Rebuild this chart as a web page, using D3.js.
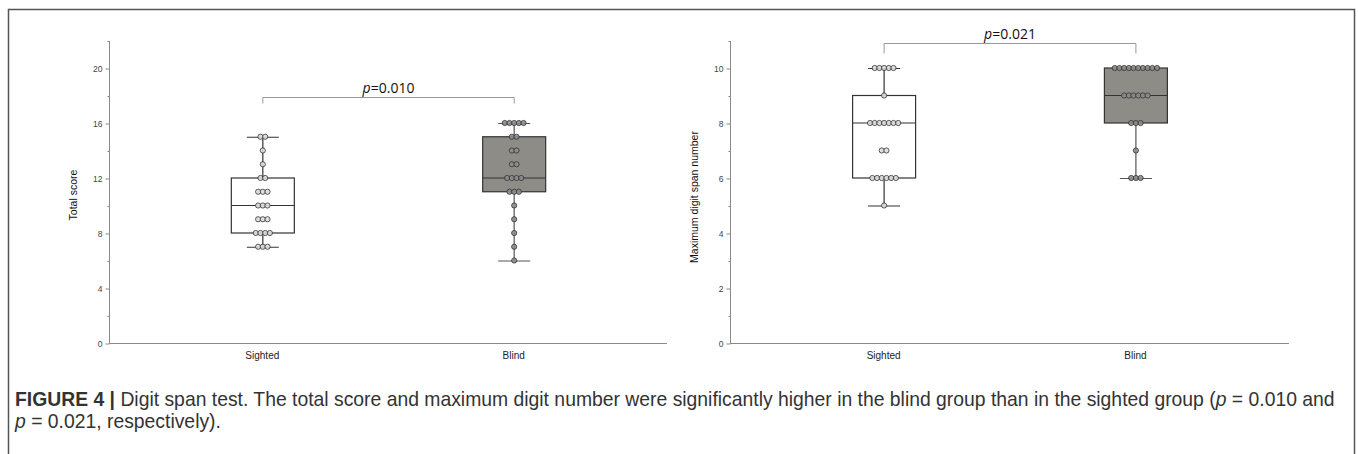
<!DOCTYPE html>
<html><head><meta charset="utf-8">
<script src="https://cdn.jsdelivr.net/npm/d3@7"></script>
<style>
body{margin:0;background:#fff;}
svg{display:block;}
</style></head>
<body>
<svg id="c" width="1358" height="454"></svg>
<script>
// ---------- data ----------
const groups = ["Sighted", "Blind"];
// panel A: Total score (value -> count of participants)
const totalSighted = [[7,3],[8,4],[9,3],[10,3],[11,3],[12,2],[13,1],[14,1],[15,2]];
const totalBlind   = [[6,1],[7,1],[8,1],[9,1],[10,1],[11,3],[12,4],[13,2],[14,2],[15,2],[16,5]];
// box stats [min, q1, median, q3, max]
const totalBoxSighted = [7, 8, 10, 12, 15];
const totalBoxBlind   = [6, 11, 12, 15, 16];
// panel B: Maximum digit span number
const spanSighted = [[5,1],[6,6],[7,2],[8,7],[9,1],[10,5]];
const spanBlind   = [[6,3],[7,1],[8,3],[9,6],[10,10]];
const spanBoxSighted = [5, 6, 8, 9, 10];
const spanBoxBlind   = [6, 8, 9, 10, 10];
const totalTicks = [0, 4, 8, 12, 16, 20];
const spanTicks = [0, 2, 4, 6, 8, 10];
const pTotal = "0.010", pSpan = "0.021";

const svg = d3.select("#c");
const FONT = "'Liberation Sans', Arial, sans-serif";

// figure frame
svg.append("path").attr("d","M8.5,460 V9.5 H1354.5 V460")
  .attr("fill","none").attr("stroke","#555").attr("stroke-width",1.5);

function panel(opt){
  const x = d3.scalePoint().domain(groups).range([opt.x0, opt.x1]).padding(0.61);
  const y = d3.scaleLinear().domain([0, opt.ymax]).range([343, 343 - opt.ymax*opt.ppu]);
  const g = svg.append("g");
  // x axis line
  g.append("line").attr("x1",opt.x0).attr("x2",opt.x1).attr("y1",343.5).attr("y2",343.5)
    .attr("stroke","#8a8a8a").attr("stroke-width",1);
  // y axis
  const ya = d3.axisLeft(y).tickValues(opt.ticks).tickSize(4).tickPadding(3);
  const yg = g.append("g").attr("transform",`translate(${opt.x0+0.5},0.5)`).call(ya);
  yg.select(".domain").attr("stroke","#8a8a8a").attr("d",`M0,${y(0)}V${y(opt.ymax)}`);
  yg.selectAll(".tick line").attr("stroke","#8a8a8a");
  yg.selectAll(".tick text").attr("font-family",FONT).attr("font-size",8.5).attr("fill","#444");
  const minor = d3.axisLeft(y).tickValues(opt.minor).tickSize(2).tickFormat("");
  const mg = g.append("g").attr("transform",`translate(${opt.x0+0.5},0.5)`).call(minor);
  mg.select(".domain").remove();
  mg.selectAll(".tick line").attr("stroke","#8a8a8a");
  // y title
  g.append("text").attr("transform",`translate(${opt.titleX},${opt.titleY}) rotate(-90)`)
    .attr("text-anchor","middle").attr("font-family",FONT).attr("font-size",10.5)
    .attr("fill","#111").text(opt.title);
  // x labels
  groups.forEach(gr=>{
    g.append("text").attr("x",x(gr)).attr("y",359).attr("text-anchor","middle")
      .attr("font-family",FONT).attr("font-size",10).attr("fill","#222").text(gr);
  });
  // boxes
  const bw = 63, cap = 16;
  [[groups[0],opt.boxS,"#ffffff","#333",opt.dotsS,"#dcdcdc"],
   [groups[1],opt.boxB,"#8e8c87","#555",opt.dotsB,"#8c8c8c"]].forEach(([gr,b,fill,wc,dots,dfill])=>{
    const cx = x(gr)+0.5;
    g.append("line").attr("x1",cx).attr("x2",cx).attr("y1",y(b[0])).attr("y2",y(b[4]))
      .attr("stroke",wc).attr("stroke-width",1.2);
    g.append("line").attr("x1",cx-cap).attr("x2",cx+cap).attr("y1",y(b[0])+0.5).attr("y2",y(b[0])+0.5)
      .attr("stroke",wc).attr("stroke-width",1.2);
    g.append("line").attr("x1",cx-cap).attr("x2",cx+cap).attr("y1",y(b[4])+0.5).attr("y2",y(b[4])+0.5)
      .attr("stroke",wc).attr("stroke-width",1.2);
    g.append("rect").attr("x",cx-bw/2).attr("y",y(b[3])).attr("width",bw).attr("height",y(b[1])-y(b[3]))
      .attr("fill",fill).attr("stroke","#333").attr("stroke-width",1.2);
    g.append("line").attr("x1",cx-bw/2).attr("x2",cx+bw/2).attr("y1",y(b[2])).attr("y2",y(b[2]))
      .attr("stroke","#333").attr("stroke-width",1.2);
    const sp = 4.7;
    dots.forEach(([v,n])=>{
      for(let i=0;i<n;i++){
        g.append("circle").attr("cx",cx+(i-(n-1)/2)*sp).attr("cy",y(v)).attr("r",2.6)
          .attr("fill",dfill).attr("fill-opacity",0.9).attr("stroke","#333").attr("stroke-width",0.8);
      }
    });
  });
  // significance bracket
  const by = Math.round(y(opt.brY))+0.5;
  const xa = x(groups[0])+0.5, xb = x(groups[1])+0.5;
  g.append("path").attr("d",`M${xa},${by+opt.brTick}V${by}H${xb}V${by+opt.brTick}`)
    .attr("fill","none").attr("stroke","#999").attr("stroke-width",1);
  const t = g.append("text").attr("x",(xa+xb)/2).attr("y",by-5).attr("text-anchor","middle")
    .attr("font-family","'Open Sans', sans-serif").attr("font-size",14).attr("fill","#111");
  t.append("tspan").attr("font-style","italic").text("p");
  t.append("tspan").text("=" + opt.p);
}

panel({x0:109, x1:667, ymax:22, ppu:13.75, ticks:totalTicks, minor:[2,6,10,14,18,22],
  title:"Total score", titleX:77, titleY:195, boxS:totalBoxSighted, boxB:totalBoxBlind,
  dotsS:totalSighted, dotsB:totalBlind, brY:17.9, brTick:6, p:pTotal});
panel({x0:730, x1:1289, ymax:11, ppu:27.5, ticks:spanTicks, minor:[1,3,5,7,9,11],
  title:"Maximum digit span number", titleX:698, titleY:197, boxS:spanBoxSighted, boxB:spanBoxBlind,
  dotsS:spanSighted, dotsB:spanBlind, brY:10.9, brTick:10, p:pSpan});

// caption
const cap = svg.append("g").attr("font-family","'Liberation Sans', Arial, sans-serif")
  .attr("font-size",15).attr("fill","#333");
const l1 = cap.append("text").attr("x",15).attr("y",406);
l1.append("tspan").attr("font-weight","bold").text("FIGURE 4 | ");
l1.append("tspan").text("Digit span test. The total score and maximum digit number were significantly higher in the blind group than in the sighted group (");
l1.append("tspan").attr("font-style","italic").text("p");
l1.append("tspan").text(" = 0.010 and");
const l2 = cap.append("text").attr("x",15).attr("y",428);
l2.append("tspan").attr("font-style","italic").text("p");
l2.append("tspan").text(" = 0.021, respectively).");
// fit line 1 width to reference
const w = l1.node().getComputedTextLength();
const target = 1320;
const s = target / w;
cap.attr("font-size", 15*s);
</script>
</body></html>
